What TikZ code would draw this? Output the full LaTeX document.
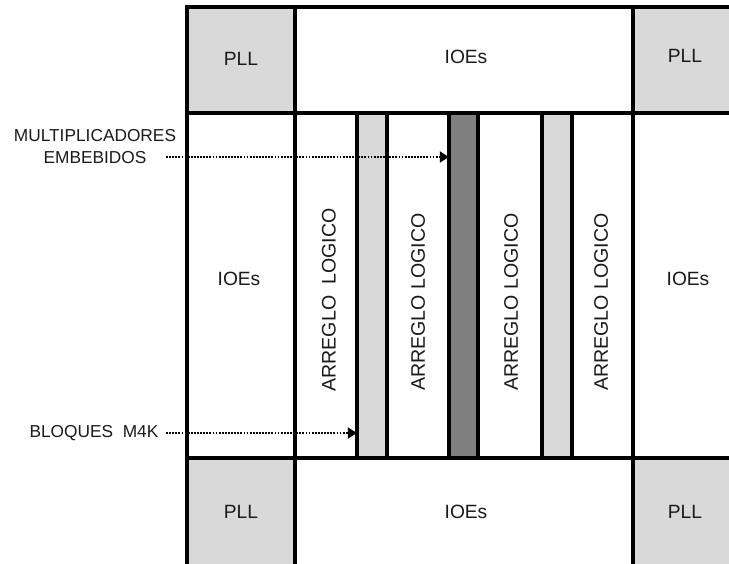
\documentclass[tikz,border=0pt]{standalone}
\usepackage{fontspec}
\setmainfont{Liberation Sans}
\usetikzlibrary{arrows.meta}
\definecolor{lgray}{HTML}{D9D9D9}
\definecolor{dgray}{HTML}{7F7F7F}
\definecolor{txt}{HTML}{1A1A1A}
\tikzset{
  cell/.style={draw=black, line width=3.1pt, rectangle, inner sep=0pt},
  boxtext/.style={text=txt, inner sep=0pt, font=\fontsize{19.2}{22}\selectfont},
  vtext/.style={text=txt, inner sep=0pt, rotate=90, font=\fontsize{19.6}{22}\selectfont},
  sidetext/.style={text=txt, inner sep=0pt, align=center, font=\fontsize{17.3}{22}\selectfont},
  pointer/.style={draw=black, line width=2.3pt, dash pattern=on 1.8pt off 1.3pt,
    -{Triangle[length=9pt,width=11pt]}}
}
\begin{document}
\begin{tikzpicture}[x=1pt,y=-1pt]
\useasboundingbox (0,0) rectangle (729,563);
\clip (0,0) rectangle (729,563);
% top row
\path[cell, fill=lgray] (187,7) rectangle (295,113);
\path[cell, fill=white] (295,7) rectangle (633,113);
\path[cell, fill=lgray] (633,7) rectangle (760,113);
% middle band
\path[cell, fill=white] (187,113) rectangle (295,458);
\path[cell, fill=white] (295,113) rectangle (357,458);
\path[cell, fill=lgray] (357,113) rectangle (387,458);
\path[cell, fill=white] (387,113) rectangle (449,458);
\path[cell, fill=dgray] (449,113) rectangle (478,458);
\path[cell, fill=white] (478,113) rectangle (542,458);
\path[cell, fill=lgray] (542,113) rectangle (572,458);
\path[cell, fill=white] (572,113) rectangle (633,458);
\path[cell, fill=white] (633,113) rectangle (760,458);
% bottom row
\path[cell, fill=lgray] (187,458) rectangle (295,600);
\path[cell, fill=white] (295,458) rectangle (633,600);
\path[cell, fill=lgray] (633,458) rectangle (760,600);
% named columns for the pointers
\node[inner sep=0pt, minimum width=29pt, minimum height=345pt] (dsp) at (463.5,285.5) {};
\node[inner sep=0pt, minimum width=30pt, minimum height=345pt] (m4k) at (372,285.5) {};
% texts
\node[boxtext] (plltl) at (241,59) {PLL};
\node[boxtext] (ioet) at (466,57) {IOEs};
\node[boxtext] (plltr) at (685,56) {PLL};
\node[boxtext] (ioel) at (239,279) {IOEs};
\node[boxtext] (ioer) at (688,279) {IOEs};
\node[boxtext] (pllbl) at (241,512) {PLL};
\node[boxtext] (ioeb) at (466,512) {IOEs};
\node[boxtext] (pllbr) at (685,512) {PLL};
\node[vtext] (al1) at (329,300) {ARREGLO\ \ LOGICO};
\node[vtext] (al2) at (418,302) {ARREGLO LOGICO};
\node[vtext] (al3) at (511,302) {ARREGLO LOGICO};
\node[vtext] (al4) at (601,302) {ARREGLO LOGICO};
\node[sidetext] (mult) at (95,147) {MULTIPLICADORES\\EMBEBIDOS};
\node[sidetext] (bloq) at (94,433) {BLOQUES\ \ M4K};
% pointers
\coordinate (ms) at (166,157);
\coordinate (bs) at (166,433);
\draw[pointer] (ms) -- (ms -| dsp.west);
\draw[pointer] (bs) -- (bs -| m4k.west);
\end{tikzpicture}
\end{document}
